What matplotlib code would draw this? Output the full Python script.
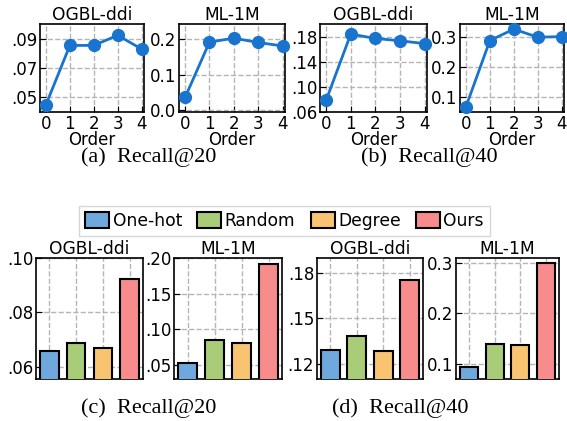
"""Order ablation (line plots) and feature-init comparison (bars), Recall@20/40."""
import matplotlib
matplotlib.use("Agg")
import matplotlib.pyplot as plt
from matplotlib.patches import Patch

plt.rcParams.update({
    "font.family": "DejaVu Sans",
    "font.size": 12,
    "axes.linewidth": 1.2,
    "xtick.direction": "in",
    "ytick.direction": "in",
    "xtick.major.size": 4,
    "ytick.major.size": 4,
})

W, H = 567, 421

# ---- data: top row (recall vs. order) ----
orders = [0, 1, 2, 3, 4]
r20_ddi = [0.0450, 0.0854, 0.0854, 0.0923, 0.0829]
r20_ml = [0.036, 0.192, 0.203, 0.191, 0.181]
r40_ddi = [0.0789, 0.1853, 0.1783, 0.1745, 0.1700]
r40_ml = [0.0667, 0.287, 0.325, 0.298, 0.300]

# ---- data: bottom row (feature init) ----
methods = ["One-hot", "Random", "Degree", "Ours"]
b20_ddi = [0.0656, 0.0688, 0.0669, 0.0921]
b20_ml = [0.0532, 0.0850, 0.0813, 0.191]
b40_ddi = [0.1294, 0.1382, 0.1285, 0.1750]
b40_ml = [0.094, 0.140, 0.137, 0.299]

LINE_COLOR = "#1874CD"
BAR_COLORS = ["#6fa8dc", "#a8cc78", "#f8c471", "#f88b8b"]


def px_axes(fig, x0, x1, y0, y1):
    return fig.add_axes([x0 / W, 1 - y1 / H, (x1 - x0) / W, (y1 - y0) / H])


def style(ax, title, yticks, ylabels, ylim):
    ax.set_title(title, fontsize=12.3, pad=3)
    ax.set_ylim(*ylim)
    ax.set_yticks(yticks)
    ax.set_yticklabels(ylabels)
    ax.grid(True, ls="--", color="#b5b5b5", lw=1.0)
    ax.set_axisbelow(True)
    ax.tick_params(pad=2)


def line_panel(ax, vals, title, yticks, ylabels, ylim):
    ax.plot(orders, vals, color=LINE_COLOR, lw=2, marker="o", ms=8.5, clip_on=False, zorder=3)
    ax.set_xlim(-0.25, 4.1)
    ax.set_xticks(orders)
    ax.set_xlabel("Order", labelpad=-1)
    style(ax, title, yticks, ylabels, ylim)


def bar_panel(ax, vals, title, yticks, ylabels, ylim):
    xs = range(len(methods))
    ax.bar(xs, vals, width=0.7, color=BAR_COLORS, edgecolor="black", lw=1.5, zorder=3)
    ax.set_xlim(-0.5, 3.5)
    ax.set_xticks(list(xs))
    ax.set_xticklabels([])
    ax.tick_params(axis="x", length=0)
    style(ax, title, yticks, ylabels, ylim)


fig = plt.figure(figsize=(W / 100, H / 100), dpi=100)

ax = px_axes(fig, 40, 144, 24, 112)
line_panel(ax, r20_ddi, "OGBL-ddi", [0.05, 0.07, 0.09], [".05", ".07", ".09"], (0.04, 0.10))
ax = px_axes(fig, 179, 285, 24, 112)
line_panel(ax, r20_ml, "ML-1M", [0.0, 0.1, 0.2], ["0.0", "0.1", "0.2"], (-0.005, 0.243))
ax = px_axes(fig, 320, 427, 24, 112)
line_panel(ax, r40_ddi, "OGBL-ddi", [0.06, 0.10, 0.14, 0.18], [".06", ".10", ".14", ".18"], (0.06, 0.2015))
ax = px_axes(fig, 460, 564, 24, 112)
line_panel(ax, r40_ml, "ML-1M", [0.1, 0.2, 0.3], ["0.1", "0.2", "0.3"], (0.049, 0.342))

ax = px_axes(fig, 36, 143, 258, 379)
bar_panel(ax, b20_ddi, "OGBL-ddi", [0.06, 0.08, 0.10], [".06", ".08", ".10"], (0.0554, 0.10))
ax = px_axes(fig, 174, 282, 258, 379)
bar_panel(ax, b20_ml, "ML-1M", [0.05, 0.10, 0.15, 0.20], [".05", ".10", ".15", ".20"], (0.0305, 0.2))
ax = px_axes(fig, 317, 423, 258, 379)
bar_panel(ax, b40_ddi, "OGBL-ddi", [0.12, 0.15, 0.18], [".12", ".15", ".18"], (0.110, 0.1897))
ax = px_axes(fig, 456, 559, 258, 379)
bar_panel(ax, b40_ml, "ML-1M", [0.1, 0.2, 0.3], ["0.1", "0.2", "0.3"], (0.070, 0.309))

handles = [Patch(facecolor=c, edgecolor="black", lw=1.5) for c in BAR_COLORS]
fig.legend(handles, methods, loc="center", bbox_to_anchor=(284.5 / W, 1 - 221 / H), ncol=4,
           fontsize=12.3, frameon=True, fancybox=False, edgecolor="#cccccc",
           handlelength=1.4, handleheight=1.1, handletextpad=0.2, columnspacing=0.9,
           borderpad=0.35)

cap = dict(family="Liberation Serif", fontsize=16, ha="center", va="center")
fig.text(149 / W, 1 - 157 / H, "(a)  Recall@20", **cap)
fig.text(429 / W, 1 - 157 / H, "(b)  Recall@40", **cap)
fig.text(149 / W, 1 - 408 / H, "(c)  Recall@20", **cap)
fig.text(400 / W, 1 - 408 / H, "(d)  Recall@40", **cap)

fig.savefig("out.png", dpi=100)
